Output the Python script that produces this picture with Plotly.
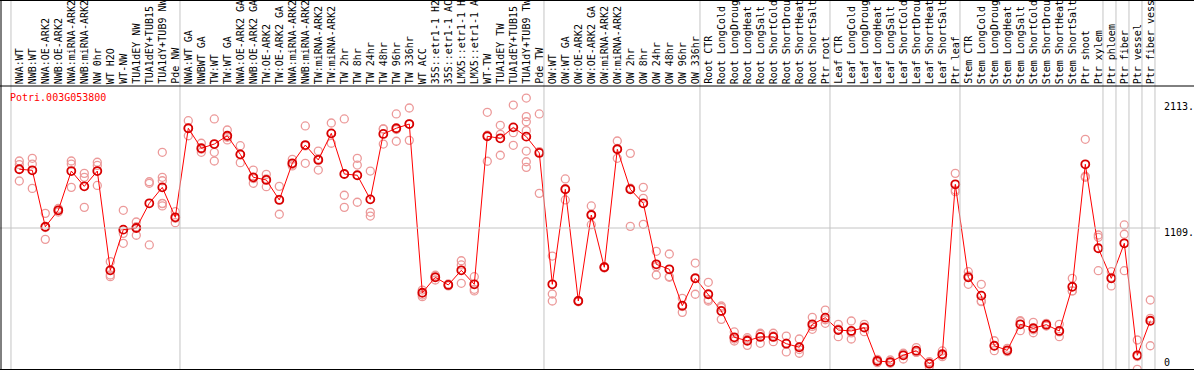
import plotly.graph_objects as go

W, H = 1194, 370

categories = [
    "NWA:WT", "NWB:WT", "NWA:OE-ARK2", "NWB:OE-ARK2", "NWA:miRNA-ARK2", "NWB:miRNA-ARK2",
    "NW 0hr", "WT H2O", "WT-NW", "TUA1dEY NW", "TUA1dEY+TUB15", "TUA1dY+TUB9 NW", "Pde NW",
    "NWA:WT GA", "NWBWT GA", "TW:WT", "TW:WT GA", "NWA:OE-ARK2 GA", "NWB:OE-ARK2 GA",
    "TW:OE-ARK2", "TW:OE-ARK2 GA", "NWA:miRNA-ARK2", "NWB:miRNA-ARK2", "TW:miRNA-ARK2",
    "TW:miRNA-ARK2", "TW 2hr", "TW 8hr", "TW 24hr", "TW 48hr", "TW 96hr", "TW 336hr",
    "WT ACC", "35S::etr1-1 H2", "35S::etr1-1 AC", "LMX5::etr1-1 H", "LMX5::etr1-1 A",
    "WT-TW", "TUA1dEY TW", "TUA1dEY+TUB15", "TUA1dY+TUB9 TW", "Pde TW",
    "OW:WT", "OW:WT GA", "OW:OE-ARK2", "OW:OE-ARK2 GA", "OW:miRNA-ARK2", "OW:miRNA-ARK2",
    "OW 2hr", "OW 8hr", "OW 24hr", "OW 48hr", "OW 96hr", "OW 336hr",
    "Root CTR", "Root LongCold", "Root LongDroug", "Root LongHeat", "Root LongSalt",
    "Root ShortCold", "Root ShortDrou", "Root ShortHeat", "Root ShortSalt", "Ptr root",
    "Leaf CTR", "Leaf LongCold", "Leaf LongDroug", "Leaf LongHeat", "Leaf LongSalt",
    "Leaf ShortCold", "Leaf ShortDrou", "Leaf ShortHeat", "Leaf ShortSalt", "Ptr leaf",
    "Stem CTR", "Stem LongCold", "Stem LongDroug", "Stem LongHeat", "Stem LongSalt",
    "Stem ShortCold", "Stem ShortDrou", "Stem ShortHeat", "Stem ShortSalt", "Ptr shoot",
    "Ptr xylem", "Ptr phloem", "Ptr fiber", "Ptr vessel", "Ptr fiber vess",
]

mean_values = [
    1570, 1562, 1119, 1248, 1556, 1436, 1556, 777, 1096, 1109, 1303, 1428, 1193,
    1892, 1735, 1768, 1833, 1687, 1507, 1486, 1329, 1617, 1760, 1643, 1852, 1533, 1523,
    1334, 1847, 1892, 1925, 601, 722, 662, 777, 667, 1829, 1813, 1899, 1826, 1698,
    667, 1413, 536, 1211, 801, 1727, 1413, 1303, 824, 785, 499, 714,
    589, 458, 251, 224, 254, 254, 201, 173, 353, 405,
    308, 301, 327, 65, 57, 110, 146, 44, 118, 1452,
    722, 578, 185, 149, 353, 322, 350, 301, 648, 1609, 950,
    714, 989, 110, 381,
]

replicate_values = [
    [1635, 1607, 1478], [1656, 1611, 1420], [1224, 1020, 1113], [1262, 1248, 1234],
    [1635, 1611, 1428], [1538, 1507, 1271], [1625, 1600, 1443], [845, 740, 727],
    [1248, 1067, 989], [1156, 1052, 1119], [1472, 1460, 976],
    [1703, 1507, 1480, 1303, 1282, 1300], [1237, 1185, 1151],
    [1951, 1833, 1892], [1774, 1703, 1728], [1965, 1703, 1635], [1878, 1800, 1821],
    [1755, 1622, 1684], [1564, 1460, 1497], [1530, 1433, 1495], [1436, 1217, 1334],
    [1648, 1596, 1607], [1910, 1617, 1753], [1713, 1564, 1652], [1933, 1774, 1849],
    [1965, 1366, 1271], [1656, 1603, 1311], [1556, 1232, 1203], [1886, 1768, 1887],
    [2004, 1790, 1882], [2051, 1797, 1927], [622, 583, 570], [701, 727, 738],
    [655, 670, 662], [852, 819, 675], [727, 628, 615], [2017, 1633, 1837],
    [1915, 1680, 1844], [2074, 1857, 1758], [2129, 1983, 1943, 1873, 1713, 1629, 1585],
    [2004, 1381, 1709],
    [889, 591, 536], [1494, 1329, 1416], [540, 530, 538], [1282, 1135, 1216],
    [796, 806, 801], [1792, 1656, 1733], [1695, 1122, 1422], [1428, 1342, 1138],
    [926, 740, 806], [905, 722, 728], [557, 447, 493], [834, 589, 719],
    [683, 536, 548], [497, 392, 485], [293, 222, 238], [236, 188, 248],
    [283, 204, 275], [283, 217, 262], [261, 136, 206], [238, 126, 155],
    [408, 314, 337], [465, 361, 389],
    [353, 256, 315], [379, 238, 286], [353, 295, 333], [78, 52, 65],
    [73, 47, 57], [126, 81, 122], [170, 135, 133], [52, 20, 60],
    [144, 99, 111], [1538, 1407, 1394],
    [766, 667, 733], [667, 531, 536], [224, 146, 185], [165, 138, 144],
    [381, 303, 375], [369, 287, 310], [361, 340, 349], [353, 256, 294],
    [714, 615, 615], [1805, 1507, 1515], [1054, 1036, 774],
    [766, 654, 722], [1133, 1060, 774], [230, 0, 100], [544, 400, 185],
]

gene_title = "Potri.003G053800"
y_tick_values = [2113, 1109, 0]
y_tick_labels = ["2113.", "1109.", "0"]
group_ends = [-1, 12, 40, 52, 62, 72, 83, 84, 85, 86, 87]

# layout geometry (pixels)
X0_PX, STEP_PX = 19.3, 13.0
ZERO_PX, PX_PER_UNIT = 369.3, 0.12741
x_range = [-X0_PX / STEP_PX, (W - X0_PX) / STEP_PX]
y_range = [(ZERO_PX - H) / PX_PER_UNIT, ZERO_PX / PX_PER_UNIT]

def py(p):  # pixel y -> paper y
    return 1 - p / H

def pxp(p):  # pixel x -> paper x
    return p / W

idx = list(range(len(categories)))
rx, ry = [], []
for i, reps in enumerate(replicate_values):
    for v in reps:
        rx.append(i)
        ry.append(v)

fig = go.Figure()
fig.add_trace(go.Scatter(
    x=rx, y=ry, mode="markers", hoverinfo="skip",
    marker=dict(symbol="circle-open", size=8, color="#ec9a9a", line=dict(width=1.3, color="#ec9a9a")),
))
fig.add_trace(go.Scatter(
    x=idx, y=mean_values, mode="lines+markers",
    line=dict(color="#ff0000", width=1),
    marker=dict(symbol="circle-open", size=8, color="#d80000", line=dict(width=1.8, color="#d80000")),
    text=categories,
))

shapes = []
gray = "#c4c4c4"
for g in group_ends:
    xv = g + 0.36
    shapes.append(dict(type="line", xref="x", yref="paper", x0=xv, x1=xv, y0=py(369), y1=1,
                       line=dict(color=gray, width=1)))
# horizontal grid at middle tick
shapes.append(dict(type="line", xref="paper", yref="y", x0=0, x1=pxp(1160), y0=1109, y1=1109,
                   line=dict(color=gray, width=1)))
# black frame lines
for yy in (86, 369.5, 0.5):
    shapes.append(dict(type="line", xref="paper", yref="paper", x0=0, x1=1, y0=py(yy), y1=py(yy),
                       line=dict(color="black", width=1)))
shapes.append(dict(type="line", xref="paper", yref="paper", x0=pxp(1), x1=pxp(1), y0=0, y1=1,
                   line=dict(color="black", width=1)))

annotations = []
mono = "DejaVu Sans Mono"
for i, lab in enumerate(categories):
    annotations.append(dict(
        x=i, xref="x", y=py(85), yref="paper", text=lab, textangle=-90,
        xanchor="center", yanchor="bottom", showarrow=False, borderpad=0,
        font=dict(family=mono, size=10, color="black"),
    ))
annotations.append(dict(
    x=pxp(9), xref="paper", y=py(97), yref="paper", text=gene_title, xanchor="left",
    yanchor="middle", showarrow=False, borderpad=0, font=dict(family=mono, size=10, color="#ff0000"),
))
label_px = [107, 232.5, 362]
for lab, p in zip(y_tick_labels, label_px):
    annotations.append(dict(
        x=pxp(1163), xref="paper", y=py(p), yref="paper", text=lab, xanchor="left",
        yanchor="middle", showarrow=False, borderpad=0, font=dict(family=mono, size=10, color="black"),
    ))

fig.update_layout(
    width=W, height=H, margin=dict(l=0, r=0, t=0, b=0),
    paper_bgcolor="white", plot_bgcolor="white", showlegend=False,
    xaxis=dict(range=x_range, visible=False, showgrid=False, zeroline=False),
    yaxis=dict(range=y_range, visible=False, showgrid=False, zeroline=False),
    shapes=shapes, annotations=annotations,
)
fig.write_html(
    "out.html",
    config={"displayModeBar": False, "staticPlot": True},
    post_script="document.body.style.margin='0';document.body.style.padding='0';document.body.style.overflow='hidden';",
)
